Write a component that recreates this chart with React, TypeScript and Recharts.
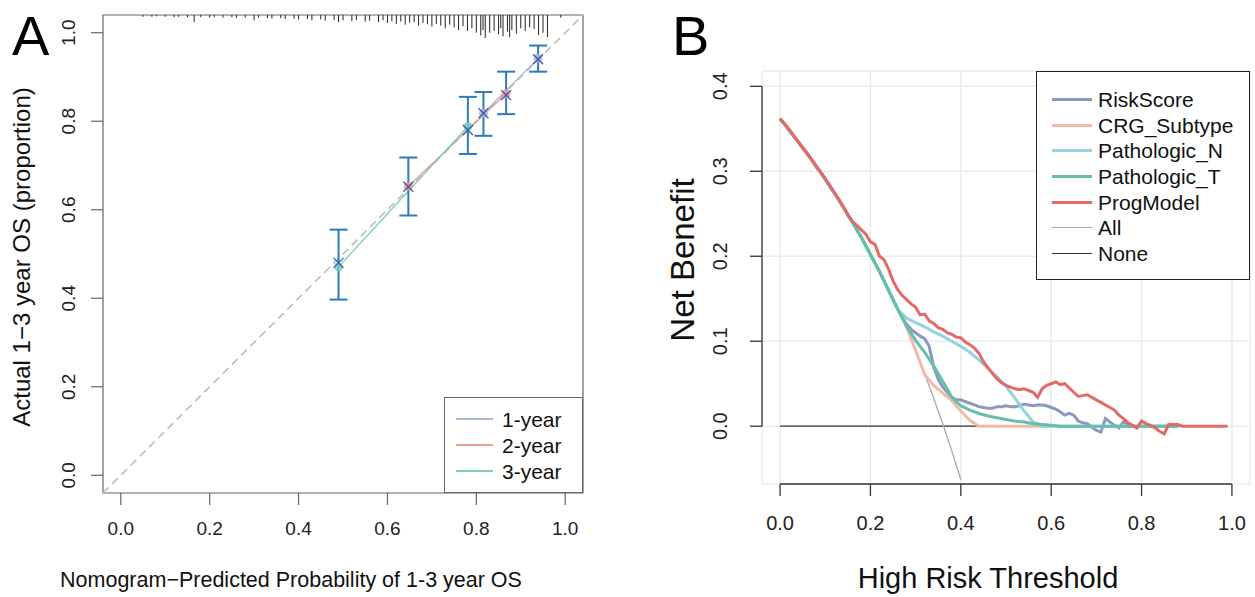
import React from "react";
import {
  ComposedChart,
  LineChart,
  Line,
  Scatter,
  ErrorBar,
  XAxis,
  YAxis,
  CartesianGrid,
  ReferenceLine,
  ReferenceArea,
  Label,
} from "recharts";

const FONT = "'Liberation Sans', Arial, Helvetica, sans-serif";

// ---------- Panel A: calibration ----------
const calTicks = [0, 0.2, 0.4, 0.6, 0.8, 1.0];

const yr1Pred = [0.816, 0.939];
const yr1Obs = [0.818, 0.942];
const yr1Lower = [0.767, 0.912];
const yr1Upper = [0.866, 0.971];

const yr2Pred = [0.647, 0.867];
const yr2Obs = [0.653, 0.862];
const yr2Lower = [0.587, 0.816];
const yr2Upper = [0.718, 0.912];

const yr3Pred = [0.49, 0.781];
const yr3Obs = [0.471, 0.788];
const yr3Lower = [0.397, 0.726];
const yr3Upper = [0.555, 0.855];

// bias-corrected estimates (blue x)
const corrPred = [0.49, 0.647, 0.781, 0.816, 0.867, 0.939];
const corrObs = [0.48, 0.652, 0.78, 0.818, 0.859, 0.94];

// rug of predicted probabilities along the top border
const rugX = [
  0.05, 0.07, 0.08, 0.1, 0.12, 0.13, 0.15, 0.165, 0.18, 0.2, 0.21, 0.23, 0.25,
  0.26, 0.28, 0.3, 0.31, 0.33, 0.34, 0.36, 0.37, 0.39, 0.4, 0.42, 0.43, 0.45,
  0.46, 0.48, 0.49, 0.5, 0.52, 0.53, 0.55, 0.56, 0.58, 0.59, 0.6, 0.61, 0.62,
  0.63, 0.64, 0.65, 0.66, 0.67, 0.68, 0.69, 0.7, 0.71, 0.72, 0.73, 0.74, 0.75,
  0.76, 0.77, 0.78, 0.79, 0.8, 0.81, 0.815, 0.82, 0.83, 0.84, 0.85, 0.855,
  0.86, 0.87, 0.875, 0.88, 0.89, 0.9, 0.91, 0.92, 0.93, 0.94, 0.95, 0.96, 0.99,
];
const rugLen = [
  0.004, 0.004, 0.003, 0.004, 0.005, 0.004, 0.005, 0.016, 0.005, 0.006, 0.005,
  0.006, 0.005, 0.007, 0.006, 0.012, 0.006, 0.007, 0.008, 0.007, 0.009, 0.008,
  0.01, 0.009, 0.012, 0.01, 0.013, 0.011, 0.016, 0.012, 0.014, 0.011, 0.015,
  0.013, 0.016, 0.012, 0.018, 0.014, 0.02, 0.015, 0.022, 0.017, 0.016, 0.024,
  0.018, 0.021, 0.026, 0.02, 0.024, 0.03, 0.022, 0.028, 0.034, 0.025, 0.036,
  0.03, 0.04, 0.046, 0.034, 0.052, 0.04, 0.036, 0.044, 0.03, 0.048, 0.038, 0.05,
  0.034, 0.042, 0.03, 0.036, 0.028, 0.032, 0.045, 0.04, 0.05, 0.006,
];

const yearColors = ["#AAB6D8", "#EE9C8C", "#7ECDBD"];
const yearNames = ["1-year", "2-year", "3-year"];

// ---------- Panel B: decision curves ----------
const dcaXTicks = [0, 0.2, 0.4, 0.6, 0.8, 1.0];
const dcaYTicks = [0, 0.1, 0.2, 0.3, 0.4];

const thrFine = [
  0, 0.01, 0.02, 0.03, 0.04, 0.05, 0.06, 0.07, 0.08, 0.09, 0.1, 0.11, 0.12,
  0.13, 0.14, 0.15, 0.16, 0.17, 0.18, 0.19, 0.2, 0.21, 0.22, 0.23, 0.24, 0.25,
  0.26, 0.27, 0.28, 0.29, 0.3, 0.31, 0.32, 0.33, 0.34, 0.35, 0.36, 0.37, 0.38,
  0.39, 0.4, 0.41, 0.42, 0.43, 0.44, 0.45, 0.46, 0.47, 0.48, 0.49, 0.5, 0.51,
  0.52, 0.53, 0.54, 0.55, 0.56, 0.57, 0.58, 0.59, 0.6, 0.61, 0.62, 0.63, 0.64,
  0.65, 0.66, 0.67, 0.68, 0.69, 0.7, 0.71, 0.72, 0.73, 0.74, 0.75, 0.76, 0.77,
  0.78, 0.79, 0.8, 0.81, 0.82, 0.83, 0.84, 0.85, 0.86, 0.87, 0.88, 0.89, 0.9,
  0.91, 0.92, 0.93, 0.94, 0.95, 0.96, 0.97, 0.98, 0.99,
];
const thrCoarse = [
  0, 0.02, 0.04, 0.06, 0.08, 0.1, 0.12, 0.14, 0.16, 0.18, 0.2, 0.22, 0.24,
  0.26, 0.28, 0.3, 0.32, 0.34, 0.36, 0.38, 0.4, 0.42, 0.44, 0.46, 0.48, 0.5,
  0.52, 0.54, 0.56, 0.58, 0.6, 0.62, 0.64, 0.66, 0.68, 0.7, 0.72, 0.74, 0.76,
  0.78, 0.8, 0.82, 0.84, 0.86, 0.88,
];

const nbProgModel = [
  0.362, 0.356, 0.349, 0.342, 0.335, 0.328, 0.321, 0.314, 0.306, 0.299, 0.291,
  0.283, 0.275, 0.267, 0.258, 0.249, 0.241, 0.236, 0.231, 0.226, 0.217, 0.214,
  0.2, 0.196, 0.185, 0.171, 0.161, 0.154, 0.149, 0.144, 0.14, 0.131, 0.132,
  0.124, 0.121, 0.116, 0.114, 0.11, 0.108, 0.105, 0.104, 0.099, 0.096, 0.092,
  0.086, 0.076, 0.069, 0.062, 0.056, 0.051, 0.048, 0.046, 0.044, 0.043, 0.044,
  0.042, 0.04, 0.034, 0.044, 0.048, 0.05, 0.052, 0.049, 0.05, 0.045, 0.04,
  0.035, 0.036, 0.037, 0.034, 0.031, 0.028, 0.025, 0.022, 0.019, 0.013, 0.009,
  0.004, 0.001, -0.002, 0.006, 0.003, 0.001, -0.002, -0.006, -0.009, 0.002,
  0.002, 0.002, 0, 0, 0, 0, 0, 0, 0, 0, 0, 0, 0,
];
const nbRiskScore = [
  0.361, 0.355, 0.348, 0.341, 0.334, 0.327, 0.32, 0.313, 0.305, 0.298, 0.29,
  0.282, 0.274, 0.266, 0.257, 0.248, 0.24, 0.231, 0.222, 0.212, 0.202, 0.192,
  0.182, 0.171, 0.16, 0.149, 0.138, 0.128, 0.12, 0.114, 0.11, 0.106, 0.103,
  0.094, 0.07, 0.055, 0.046, 0.04, 0.034, 0.031, 0.031, 0.029, 0.027, 0.025,
  0.023, 0.022, 0.021, 0.021, 0.023, 0.023, 0.024, 0.023, 0.023, 0.024, 0.026,
  0.025, 0.024, 0.025, 0.025, 0.024, 0.022, 0.02, 0.017, 0.013, 0.015, 0.013,
  0.006, 0.004, 0.003, -0.001, -0.005, -0.007, 0.009, 0.005, 0.001, -0.002,
  0.005, 0.002, 0, 0, 0, 0, 0, 0, 0, 0, 0, 0, 0,
];
const nbPathN = [
  0.362, 0.349, 0.335, 0.321, 0.306, 0.291, 0.275, 0.258, 0.24, 0.222, 0.202,
  0.182, 0.16, 0.138, 0.127, 0.122, 0.117, 0.111, 0.106, 0.1, 0.094, 0.087,
  0.078, 0.068, 0.058, 0.047, 0.033, 0.018, 0.005, 0, 0, 0, 0, 0, 0, 0, 0, 0,
  0, 0, 0, 0, 0, 0, 0,
];
const nbPathT = [
  0.362, 0.349, 0.335, 0.321, 0.306, 0.291, 0.275, 0.258, 0.24, 0.222, 0.202,
  0.182, 0.16, 0.138, 0.118, 0.101, 0.087, 0.071, 0.053, 0.034, 0.024, 0.019,
  0.015, 0.012, 0.01, 0.008, 0.006, 0.005, 0.003, 0.002, 0.001, 0, 0, 0, 0, 0,
  0, 0, 0, 0, 0, 0, 0, 0, 0,
];
const nbCrgSubtype = [
  0.362, 0.349, 0.335, 0.321, 0.306, 0.291, 0.275, 0.258, 0.24, 0.222, 0.202,
  0.182, 0.16, 0.138, 0.117, 0.089, 0.061, 0.048, 0.039, 0.03, 0.018, 0.007, 0,
  0, 0, 0, 0, 0, 0, 0, 0,
];
const nbAll = [
  0.362, 0.349, 0.335, 0.321, 0.306, 0.291, 0.275, 0.258, 0.24, 0.222, 0.202,
  0.182, 0.16, 0.138, 0.114, 0.089, 0.062, 0.033, 0.003, -0.029, -0.063,
];
const noneX = [0, 0.99];
const nbNone = [0, 0];

const toPoints = (xs: number[], ys: number[]) =>
  ys.map((y, i) => ({ x: xs[i], y }));

const calLines = [
  toPoints(yr1Pred, yr1Obs),
  toPoints(yr2Pred, yr2Obs),
  toPoints(yr3Pred, yr3Obs),
];
const errData = [
  ...yr1Pred.map((x, i) => ({ x, y: yr1Obs[i], err: [yr1Obs[i] - yr1Lower[i], yr1Upper[i] - yr1Obs[i]] })),
  ...yr2Pred.map((x, i) => ({ x, y: yr2Obs[i], err: [yr2Obs[i] - yr2Lower[i], yr2Upper[i] - yr2Obs[i]] })),
  ...yr3Pred.map((x, i) => ({ x, y: yr3Obs[i], err: [yr3Obs[i] - yr3Lower[i], yr3Upper[i] - yr3Obs[i]] })),
];
const corrData = toPoints(corrPred, corrObs);
const rugData = rugX.map((x, i) => ({ x, y: 1.04, err: [rugLen[i], 0] }));

const dcaSeries = [
  { name: "None", color: "#333333", width: 1.3, data: toPoints(noneX, nbNone) },
  { name: "All", color: "#A9A9A9", width: 1.3, data: toPoints(thrCoarse, nbAll) },
  { name: "RiskScore", color: "#8C98BF", width: 3, data: toPoints(thrFine, nbRiskScore) },
  { name: "CRG_Subtype", color: "#F4B9A6", width: 3, data: toPoints(thrCoarse, nbCrgSubtype) },
  { name: "Pathologic_N", color: "#93D2E0", width: 3, data: toPoints(thrCoarse, nbPathN) },
  { name: "Pathologic_T", color: "#62C0AA", width: 3, data: toPoints(thrCoarse, nbPathT) },
  { name: "ProgModel", color: "#E36A67", width: 3, data: toPoints(thrFine, nbProgModel) },
];
const dcaLegendOrder = [
  "RiskScore",
  "CRG_Subtype",
  "Pathologic_N",
  "Pathologic_T",
  "ProgModel",
  "All",
  "None",
];

const RotatedTick = (props: any) => {
  const { x, y, payload, shift, size } = props;
  return (
    <text
      transform={`translate(${x - shift},${y}) rotate(-90)`}
      textAnchor="middle"
      dominantBaseline="central"
      fontSize={size}
      fill="#222"
      fontFamily={FONT}
    >
      {Number(payload.value).toFixed(1)}
    </text>
  );
};

const Dot = (color: string) => (p: any) =>
  <circle cx={p.cx} cy={p.cy} r={4.5} fill={color} fillOpacity={0.85} />;

const Cross = (p: any) => {
  const s = 5;
  return (
    <g stroke="#3F5BA9" strokeWidth={1.3}>
      <line x1={p.cx - s} y1={p.cy - s} x2={p.cx + s} y2={p.cy + s} />
      <line x1={p.cx - s} y1={p.cy + s} x2={p.cx + s} y2={p.cy - s} />
    </g>
  );
};

const LegendBox = ({ items, left, top, width, height, rowH, padTop, padLeft, lineW, gap, fontSize, border }: any) => (
  <div
    style={{
      position: "absolute",
      left,
      top,
      width,
      height,
      boxSizing: "border-box",
      border: `1px solid ${border}`,
      background: "#fff",
      paddingTop: padTop,
      paddingLeft: padLeft,
      fontFamily: FONT,
    }}
  >
    {items.map((it: any) => (
      <div key={it.name} style={{ display: "flex", alignItems: "center", height: rowH }}>
        <span style={{ display: "inline-block", width: lineW, height: it.w, background: it.color, marginRight: gap }} />
        <span style={{ fontSize, color: "#111", lineHeight: 1 }}>{it.name}</span>
      </div>
    ))}
  </div>
);

const text = (x: number, y: number, value: string, size: number, rotate = false) => () =>
  (
    <text
      transform={`translate(${x},${y})${rotate ? " rotate(-90)" : ""}`}
      textAnchor="middle"
      dominantBaseline="central"
      fontSize={size}
      fill="#111"
      fontFamily={FONT}
    >
      {value}
    </text>
  );

const CalibrationPanel = () => (
  <ComposedChart width={640} height={597} margin={{ top: 15, right: 57, left: 0, bottom: 0 }}>
    <XAxis
      type="number"
      dataKey="x"
      domain={[-0.04, 1.04]}
      allowDataOverflow
      ticks={calTicks}
      tickFormatter={(v) => v.toFixed(1)}
      axisLine={false}
      tickLine={{ stroke: "#666", strokeWidth: 1.2 }}
      tickSize={12}
      tickMargin={17}
      height={104}
      tick={{ fill: "#222", fontSize: 19, fontFamily: FONT }}
    >
      <Label content={text(291, 580, "Nomogram\u2212Predicted Probability of 1-3 year OS", 21.5)} />
    </XAxis>
    <YAxis
      type="number"
      dataKey="y"
      domain={[-0.04, 1.04]}
      allowDataOverflow
      ticks={calTicks}
      axisLine={false}
      tickLine={{ stroke: "#666", strokeWidth: 1.2 }}
      tickSize={12}
      tickMargin={0}
      width={103}
      tick={(p: any) => <RotatedTick {...p} shift={23} size={19} />}
    >
      <Label content={text(21, 257, "Actual 1\u22123 year OS (proportion)", 24, true)} />
    </YAxis>
    <ReferenceLine
      segment={[{ x: -0.04, y: -0.04 }, { x: 1.04, y: 1.04 }]}
      stroke="#BDBDBD"
      strokeWidth={1.6}
      strokeDasharray="8 5"
      ifOverflow="visible"
    />
    <ReferenceArea x1={-0.04} x2={1.04} y1={-0.04} y2={1.04} fill="none" stroke="#666" strokeWidth={1.2} ifOverflow="visible" />
    <Scatter data={rugData} dataKey="y" shape={() => <g />} isAnimationActive={false}>
      <ErrorBar dataKey="err" direction="y" width={0} stroke="#222" strokeWidth={1} />
    </Scatter>
    {calLines.map((d, i) => (
      <Line key={yearNames[i]} data={d} dataKey="y" stroke={yearColors[i]} strokeWidth={1.3} dot={false} isAnimationActive={false} />
    ))}
    <Scatter data={errData} dataKey="y" shape={() => <g />} isAnimationActive={false}>
      <ErrorBar dataKey="err" direction="y" width={9} stroke="#2B7BBE" strokeWidth={2} />
    </Scatter>
    {calLines.map((d, i) => (
      <Scatter key={"pt" + i} data={d} dataKey="y" shape={Dot(yearColors[i])} isAnimationActive={false} />
    ))}
    <Scatter data={corrData} dataKey="y" shape={Cross} isAnimationActive={false} />
  </ComposedChart>
);

const DecisionPanel = () => (
  <LineChart width={615} height={597} margin={{ top: 71, right: 5, left: 0, bottom: 0 }}>
    <CartesianGrid stroke="#EBEBEB" strokeWidth={1.5} />
    <XAxis
      type="number"
      dataKey="x"
      domain={[-0.04, 1.04]}
      allowDataOverflow
      ticks={dcaXTicks}
      tickFormatter={(v) => v.toFixed(1)}
      axisLine={false}
      tickLine={{ stroke: "#333", strokeWidth: 1.3 }}
      tickSize={12}
      tickMargin={20}
      height={113}
      tick={{ fill: "#222", fontSize: 20, fontFamily: FONT }}
    >
      <Label content={text(348, 578, "High Risk Threshold", 29)} />
    </XAxis>
    <YAxis
      type="number"
      dataKey="y"
      domain={[-0.068, 0.418]}
      allowDataOverflow
      ticks={dcaYTicks}
      axisLine={false}
      tickLine={{ stroke: "#333", strokeWidth: 1.3 }}
      tickSize={12}
      tickMargin={0}
      width={122}
      tick={(p: any) => <RotatedTick {...p} shift={30} size={20} />}
    >
      <Label content={text(42, 260, "Net Benefit", 33, true)} />
    </YAxis>
    <ReferenceLine segment={[{ x: -0.04, y: 0 }, { x: -0.04, y: 0.4 }]} stroke="#333" strokeWidth={1.3} ifOverflow="visible" />
    <ReferenceLine segment={[{ x: 0, y: -0.068 }, { x: 1, y: -0.068 }]} stroke="#333" strokeWidth={1.3} ifOverflow="visible" />
    {dcaSeries.map((s) => (
      <Line
        key={s.name}
        data={s.data}
        dataKey="y"
        name={s.name}
        stroke={s.color}
        strokeWidth={s.width}
        dot={false}
        isAnimationActive={false}
      />
    ))}
  </LineChart>
);

export default function App() {
  return (
    <div style={{ position: "absolute", left: 0, top: 0, width: 1255, height: 597, background: "#fff", fontFamily: FONT }}>
      <div style={{ position: "absolute", left: 0, top: 0 }}>
        <CalibrationPanel />
      </div>
      <div style={{ position: "absolute", left: 640, top: 0 }}>
        <DecisionPanel />
      </div>
      <LegendBox
        items={yearNames.map((n, i) => ({ name: n, color: yearColors[i], w: 2 }))}
        left={444}
        top={397}
        width={139}
        height={96}
        rowH={26}
        padTop={8}
        padLeft={11}
        lineW={37}
        gap={9}
        fontSize={21}
        border="#666"
      />
      <LegendBox
        items={dcaLegendOrder.map((n) => {
          const s = dcaSeries.find((d) => d.name === n)!;
          return { name: n, color: s.color, w: s.width };
        })}
        left={1036}
        top={71}
        width={214}
        height={209}
        rowH={25.7}
        padTop={14.5}
        padLeft={15}
        lineW={40}
        gap={6}
        fontSize={21}
        border="#222"
      />
      <div style={{ position: "absolute", left: 12, top: 2, fontSize: 56, lineHeight: 1.2, color: "#000" }}>A</div>
      <div style={{ position: "absolute", left: 672, top: 2, fontSize: 56, lineHeight: 1.2, color: "#000" }}>B</div>
    </div>
  );
}
